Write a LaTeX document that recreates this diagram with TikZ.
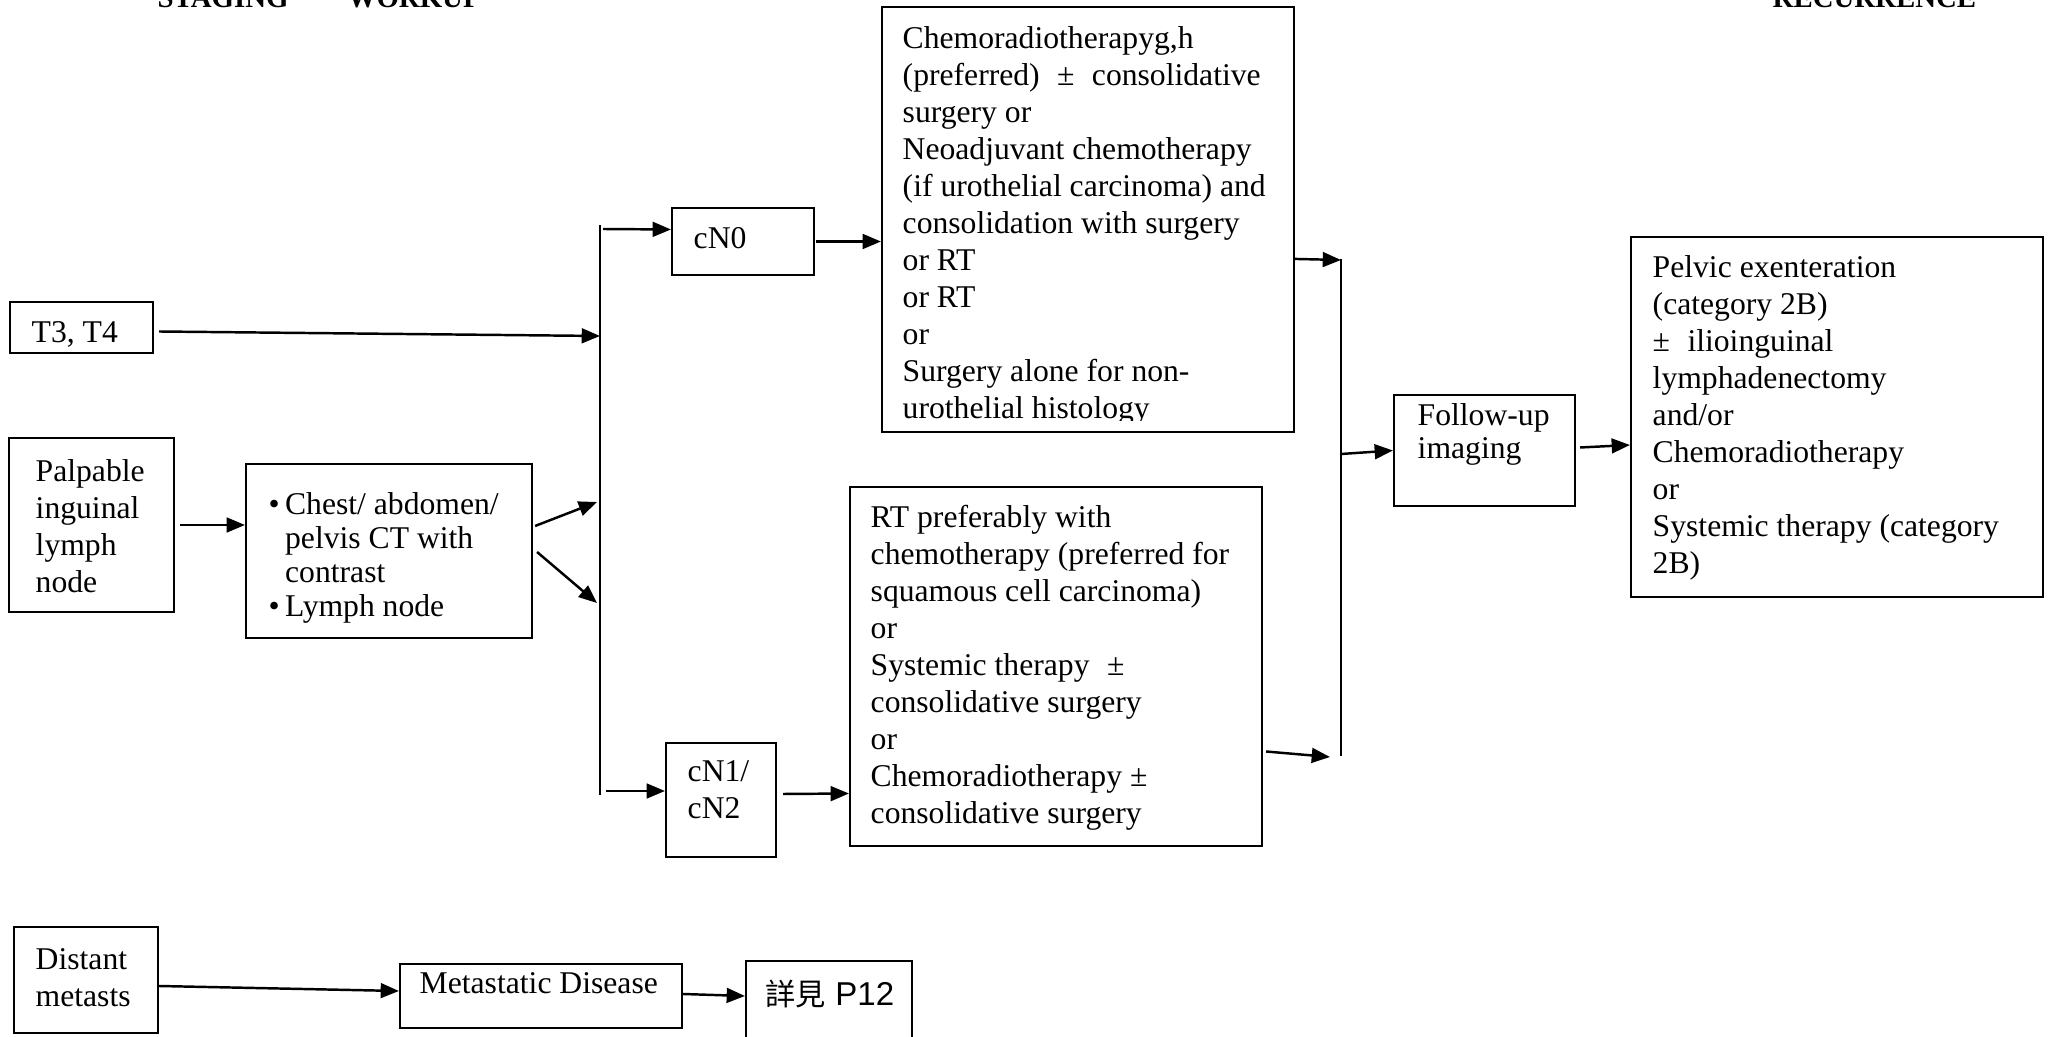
\documentclass[tikz,border=0pt]{standalone}
\usepackage{fontspec}
\setmainfont{Liberation Serif}
\newfontfamily\cjkfont{Noto Sans CJK TC}
\newfontfamily\arialfont{Liberation Sans}
\usetikzlibrary{arrows.meta,calc,fit,positioning}
\tikzset{
  boxframe/.style={
    draw,
    line width=0.6pt,
    inner sep=0pt
  },
  txt/.style={
    anchor=north west,
    inner sep=0pt,
    align=left,
    font=\fontsize{9}{10.53}\selectfont
  },
  arr/.style={
    -{Triangle[length=5.2pt,width=4.2pt]},
    line width=0.7pt
  },
  head/.style={
    anchor=base west,
    inner sep=0pt,
    font=\fontsize{8.2}{10}\selectfont\bfseries
  },
}
\newcommand{\bul}{\makebox[0.52em][l]{\textbullet}}

\begin{document}
\begin{tikzpicture}[x=0.01cm,y=-0.01cm]
  \useasboundingbox (0,0) rectangle (2051,1037);
  % column heads, cut by the page edge
  \node[head] (hStage) at (157,8) {STAGING};
  \node[head] (hWork) at (347,8) {WORKUP};
  \node[head] (hRec) at (1772,8) {RECURRENCE};

  % boxes
  \node[boxframe, fit={(10,302) (153,353)}] (t34) {};
  \node[boxframe, fit={(9,438) (174,612)}] (palp) {};
  \node[boxframe, fit={(246,464) (532,638)}] (ct) {};
  \node[boxframe, fit={(672,208) (814,275)}] (cn0) {};
  \node[boxframe, fit={(666,743) (776,857)}] (cn12) {};
  \node[boxframe, fit={(882,7) (1294,432)}] (chemo) {};
  \node[boxframe, fit={(850,487) (1262,846)}] (rt) {};
  \node[boxframe, fit={(1394,395) (1575,506)}] (follow) {};
  \node[boxframe, fit={(1631,237) (2043,597)}] (pelvic) {};
  \node[boxframe, fit={(14,927) (158,1033)}] (distant) {};
  \node[boxframe, fit={(400,964) (682,1028)}] (meta) {};
  \node[boxframe, fit={(746,961) (912,1045)}] (p12) {};

  % texts
  \node[txt, anchor=base west] (t34T) at (31,343) {T3, T4};
  \node[txt] (palpT) at (35,455) {\strut Palpable\\inguinal\\lymph\\node};
  \node[txt, font=\fontsize{9}{9.7}\selectfont] (ctT) at (268,490)
    {\strut\bul Chest/ abdomen/\\\hspace*{0.52em}pelvis CT with\\\hspace*{0.52em}contrast\\\bul Lymph node};
  \node[txt, anchor=base west] (cn0T) at (693,249) {cN0};
  \node[txt] (cn12T) at (687,755) {\strut cN1/\\cN2};
  \begin{scope}
    \clip (882,7) rectangle (1294,421);
    \node[txt] (chemoT) at (902,22) {\strut Chemoradiotherapyg,h\\
      (preferred)\hspace{0.55em}±\hspace{0.55em}consolidative\\
      surgery or\\
      Neoadjuvant chemotherapy\\
      (if urothelial carcinoma) and\\
      consolidation with surgery\\
      or RT\\
      or RT\\
      or\\
      Surgery alone for non-\\
      urothelial histology};
  \end{scope}
  \node[txt] (rtT) at (870,501) {\strut RT preferably with\\
    chemotherapy (preferred for\\
    squamous cell carcinoma)\\
    or\\
    Systemic therapy\hspace{0.55em}±\\
    consolidative surgery\\
    or\\
    Chemoradiotherapy ±\\
    consolidative surgery};
  \node[txt, font=\fontsize{9}{9.4}\selectfont] (followT) at (1417,402) {\strut Follow-up\\imaging};
  \node[txt] (pelvicT) at (1652,251) {\strut Pelvic exenteration\\
    (category 2B)\\
    ±\hspace{0.55em}ilioinguinal\\
    lymphadenectomy\\
    and/or\\
    Chemoradiotherapy\\
    or\\
    Systemic therapy (category\\
    2B)};
  \node[txt] (distantT) at (35,943) {\strut Distant\\metasts};
  \node[txt, anchor=base west] (metaT) at (419,993) {Metastatic Disease};
  \node[txt, anchor=base west, font=\fontsize{9.4}{12}\arialfont] (p12T) at (765,1005)
    {{\cjkfont\fontsize{8.6}{12}\selectfont 詳見} P12};

  % split and join bars
  \coordinate (splitN) at (600,225);
  \coordinate (splitS) at (600,795);
  \coordinate (joinN) at (1341,259);
  \coordinate (joinS) at (1341,756);
  \coordinate (sT) at (600,336);
  \coordinate (sU) at (597,502);
  \coordinate (sL) at (597,603);
  \coordinate (jM) at (1341,454);
  \draw[line width=0.6pt] (splitN) -- (splitS);
  \draw[line width=0.6pt] (joinN) -- (joinS);

  % connectors
  \draw[arr] ($(t34.east)+(5,4)$) -- (sT);
  \draw[arr] ($(palp.east)+(5,0)$) -- (palp.east -| ct.west);
  \draw[arr] ($(ct.east)+(2,-25)$) -- (sU);
  \draw[arr] ($(ct.east)+(4,1)$) -- (sL);
  \draw[arr] ($(splitN)+(3,4)$) -- ($(cn0.west)+(0,-12)$);
  \draw[arr] ($(splitS)+(6,-4)$) -- ($(cn12.west)+(0,-9)$);
  \draw[arr] ($(cn0.east)+(1,0)$) -- (cn0.east -| chemo.west);
  \draw[arr] ($(cn12.east)+(6,-6)$) -- ($(rt.west)+(0,127)$);
  \draw[arr] ($(chemo.north east)+(0,253)$) -- ($(joinN)+(0,1)$);
  \draw[arr] ($(rt.east)+(3,85)$) -- ($(joinS)+(-11,1)$);
  \draw[arr] (jM) -- (follow.west);
  \draw[arr] ($(follow.east)+(4,-3)$) -- ($(pelvic.west)+(0,28)$);
  \draw[arr] ($(distant.east)+(0,6)$) -- ($(meta.west)+(0,-5)$);
  \draw[arr] ($(meta.east)+(0,-2)$) -- (meta.east -| p12.west);
\end{tikzpicture}
\end{document}
